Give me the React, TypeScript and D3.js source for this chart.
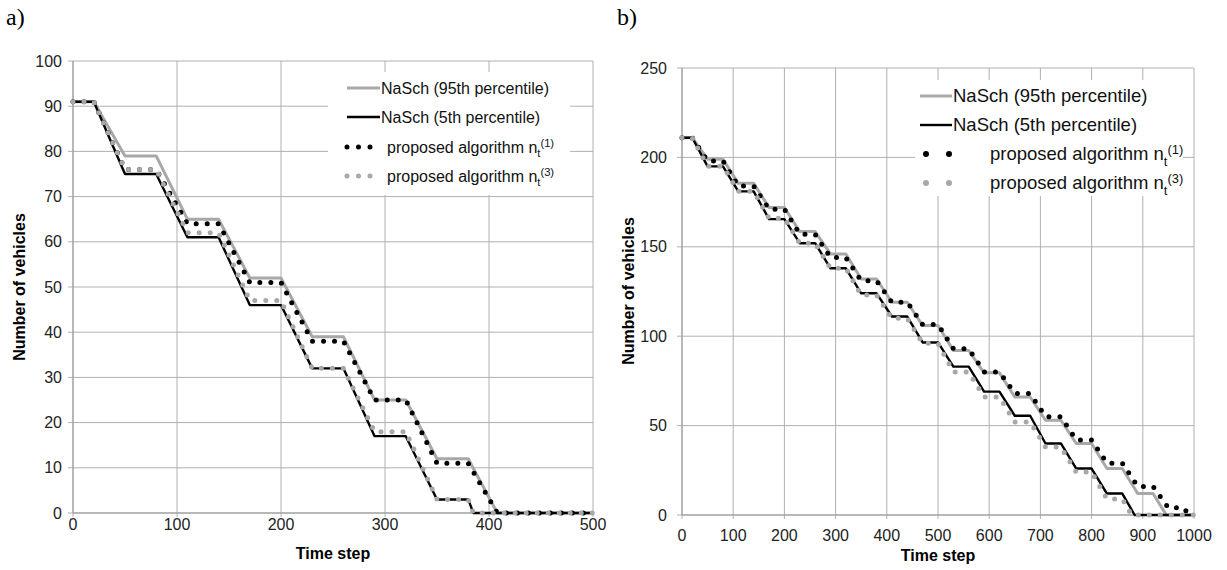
import React from "react";
import * as d3 from "d3";

// ---------- Panel a data ----------
const aT95 = [0, 20, 50, 80, 110, 140, 170, 200, 230, 260, 290, 320, 350, 380, 408, 500];
const aNaSch95 = [91, 91, 79, 79, 65, 65, 52, 52, 39, 39, 25, 25, 12, 12, 0, 0];
const aT5 = [0, 20, 50, 80, 110, 140, 170, 200, 230, 260, 290, 320, 350, 380, 385, 500];
const aNaSch5 = [91, 91, 75, 75, 61, 61, 46, 46, 32, 32, 17, 17, 3, 3, 0, 0];
const aTn1 = [0, 20, 50, 80, 110, 140, 170, 200, 230, 260, 290, 320, 350, 380, 408, 500];
const aN1 = [91, 91, 76, 76, 64, 64, 51, 51, 38, 38, 25, 25, 11, 11, 0, 0];
const aTn3 = [0, 20, 50, 80, 110, 140, 170, 200, 230, 260, 290, 320, 350, 380, 385, 500];
const aN3 = [91, 91, 76, 76, 62, 62, 47, 47, 32, 32, 18, 18, 3, 3, 0, 0];
const aXTicks = [0, 100, 200, 300, 400, 500];
const aYTicks = [0, 10, 20, 30, 40, 50, 60, 70, 80, 90, 100];

// ---------- Panel b data ----------
const bT95 = [0, 20, 50, 80, 110, 140, 170, 200, 230, 260, 290, 320, 350, 380, 410, 440, 470, 500, 530, 560, 590, 620, 650, 680, 710, 740, 770, 800, 830, 860, 890, 920, 946, 1000];
const bNaSch95 = [211, 211, 199, 199, 185.5, 185.5, 172, 172, 158.5, 158.5, 146, 146, 132, 132, 119, 119, 106, 106, 92, 92, 79.5, 79.5, 66, 66, 53, 53, 40, 40, 26, 26, 12, 12, 0, 0];
const bT5 = [0, 20, 50, 80, 110, 140, 170, 200, 230, 260, 290, 320, 350, 380, 410, 440, 470, 500, 530, 560, 590, 620, 650, 680, 710, 740, 770, 800, 830, 860, 884, 1000];
const bNaSch5 = [211, 211, 195, 195, 181, 181, 165.5, 165.5, 152, 152, 138, 138, 124, 124, 111, 111, 96.5, 96.5, 83, 83, 69, 69, 55.5, 55.5, 40, 40, 26, 26, 12, 12, 0, 0];
const bTn1 = [0, 20, 50, 80, 110, 140, 170, 200, 230, 260, 290, 320, 350, 380, 410, 440, 470, 500, 530, 560, 590, 620, 650, 680, 710, 740, 770, 800, 830, 860, 890, 920, 950, 980, 990, 1000];
const bN1 = [211, 211, 198, 198, 184, 184, 171, 171, 157, 157, 144, 144, 131, 131, 119, 119, 106.5, 106.5, 93, 93, 80, 80, 68, 68, 55, 55, 42, 42, 29, 29, 16, 16, 4, 4, 0, 0];
const bTn3 = [0, 20, 50, 80, 110, 140, 170, 200, 230, 260, 290, 320, 350, 380, 410, 440, 470, 500, 530, 560, 590, 620, 650, 680, 710, 740, 770, 800, 830, 860, 878, 1000];
const bN3 = [211, 211, 195, 195, 181, 181, 166, 166, 152, 152, 138, 138, 123, 123, 110, 110, 96, 96, 80, 80, 66, 66, 52, 52, 38, 38, 24, 24, 9, 9, 0, 0];
const bXTicks = [0, 100, 200, 300, 400, 500, 600, 700, 800, 900, 1000];
const bYTicks = [0, 50, 100, 150, 200, 250];

const legendLabels = [
  "NaSch (95th percentile)",
  "NaSch (5th percentile)",
  "proposed algorithm n",
  "proposed algorithm n",
];
const legendSups = ["", "", "(1)", "(3)"];

const FONT = "'Liberation Sans', Arial, sans-serif";
const GRID = "#b0b0b0";
const GRAY = "#a8a8a8";

type Series = { t: number[]; v: number[]; kind: "grayLine" | "blackLine" | "blackDots" | "grayDots" };

function seriesStyle(kind: Series["kind"]) {
  switch (kind) {
    case "grayLine":
      return { stroke: GRAY, strokeWidth: 3, dash: undefined as string | undefined, cap: "butt" };
    case "blackLine":
      return { stroke: "#000", strokeWidth: 2.4, dash: undefined as string | undefined, cap: "butt" };
    case "blackDots":
      return { stroke: "#000", strokeWidth: 5, dash: "0 11", cap: "round" };
    case "grayDots":
      return { stroke: GRAY, strokeWidth: 5, dash: "0 11", cap: "round" };
  }
}

function Panel(props: {
  xDomain: [number, number];
  yDomain: [number, number];
  xRange: [number, number];
  yRange: [number, number];
  xTicks: number[];
  yTicks: number[];
  series: Series[];
  yLabelX: number;
  yLabelY: number;
  xTitleY: number;
  xTickY: number;
  yTickGap: number;
  legend: { x0: number; y0: number; w: number; h: number; lineX: number; lineLen: number; dotX: number; dotLen: number; dotDash: string; dotW: number; textX: number; dotTextX: number; rows: number[]; fs: number };
}) {
  const x = d3.scaleLinear().domain(props.xDomain).range(props.xRange);
  const y = d3.scaleLinear().domain(props.yDomain).range(props.yRange);
  const [x0, x1] = props.xRange;
  const [yb, yt] = props.yRange;
  const L = props.legend;
  return (
    <g>
      {props.yTicks.map((t) => (
        <line key={"hy" + t} x1={x0} x2={x1} y1={y(t)} y2={y(t)} stroke={GRID} strokeWidth={1} />
      ))}
      {props.xTicks.map((t) => (
        <line key={"vx" + t} x1={x(t)} x2={x(t)} y1={yt} y2={yb + 4} stroke={GRID} strokeWidth={1} />
      ))}
      {props.yTicks.map((t) => (
        <line key={"ty" + t} x1={x0 - 5} x2={x0} y1={y(t)} y2={y(t)} stroke={GRID} strokeWidth={1} />
      ))}
      <line x1={x0} x2={x0} y1={yt} y2={yb} stroke="#999" strokeWidth={1} />
      <line x1={x0} x2={x1} y1={yb} y2={yb} stroke="#999" strokeWidth={1} />
      <rect x={L.x0} y={L.y0} width={L.w} height={L.h} fill="#fff" />
      {props.series.map((s, i) => {
        const st = seriesStyle(s.kind);
        const pts: [number, number][] = s.t.map((t, j) => [x(t), y(s.v[j])]);
        const path = d3.line()(pts) || "";
        return (
          <path
            key={i}
            d={path}
            fill="none"
            stroke={st.stroke}
            strokeWidth={st.strokeWidth}
            strokeDasharray={st.dash}
            strokeLinecap={st.cap as any}
            strokeLinejoin="round"
          />
        );
      })}
      {props.yTicks.map((t) => (
        <text key={"ly" + t} x={x0 - props.yTickGap} y={y(t)} dy="0.35em" textAnchor="end" fontFamily={FONT} fontSize={16} fill="#222">
          {t}
        </text>
      ))}
      {props.xTicks.map((t) => (
        <text key={"lx" + t} x={x(t)} y={props.xTickY} textAnchor="middle" fontFamily={FONT} fontSize={16} fill="#222">
          {t}
        </text>
      ))}
      <text x={(x0 + x1) / 2} y={props.xTitleY} textAnchor="middle" fontFamily={FONT} fontSize={16} fontWeight="bold" fill="#000">
        Time step
      </text>
      <text
        transform={`translate(${props.yLabelX},${props.yLabelY}) rotate(-90)`}
        textAnchor="middle"
        fontFamily={FONT}
        fontSize={16}
        fontWeight="bold"
        fill="#000"
      >
        Number of vehicles
      </text>
      {props.series.map((s, i) => {
        const st = seriesStyle(s.kind);
        const ry = L.rows[i];
        const dotted = s.kind === "blackDots" || s.kind === "grayDots";
        return (
          <g key={"lg" + i}>
            <line
              x1={dotted ? L.dotX : L.lineX}
              x2={dotted ? L.dotX + L.dotLen : L.lineX + L.lineLen}
              y1={ry}
              y2={ry}
              stroke={st.stroke}
              strokeWidth={dotted ? L.dotW : st.strokeWidth}
              strokeDasharray={dotted ? L.dotDash : undefined}
              strokeLinecap={st.cap as any}
            />
            <text x={dotted ? L.dotTextX : L.textX} y={ry} dy="0.35em" fontFamily={FONT} fontSize={L.fs} fill="#111">
              {legendLabels[i]}
              {legendSups[i] !== "" && (
                <>
                  <tspan fontSize={L.fs * 0.7} dy={L.fs * 0.28}>t</tspan>
                  <tspan fontSize={L.fs * 0.7} dy={-L.fs * 0.65}>{legendSups[i]}</tspan>
                </>
              )}
            </text>
          </g>
        );
      })}
    </g>
  );
}

export default function App() {
  const seriesA: Series[] = [
    { t: aT95, v: aNaSch95, kind: "grayLine" },
    { t: aT5, v: aNaSch5, kind: "blackLine" },
    { t: aTn1, v: aN1, kind: "blackDots" },
    { t: aTn3, v: aN3, kind: "grayDots" },
  ];
  const seriesB: Series[] = [
    { t: bT95, v: bNaSch95, kind: "grayLine" },
    { t: bT5, v: bNaSch5, kind: "blackLine" },
    { t: bTn1, v: bN1, kind: "blackDots" },
    { t: bTn3, v: bN3, kind: "grayDots" },
  ];
  return (
    <svg width={1227} height={570} style={{ position: "absolute", left: 0, top: 0, background: "#fff" }}>
      <rect x={0} y={0} width={1227} height={570} fill="#fff" />
      <text x={6} y={25} fontFamily="'Liberation Serif', 'Times New Roman', serif" fontSize={24} fill="#000">a)</text>
      <text x={617} y={25} fontFamily="'Liberation Serif', 'Times New Roman', serif" fontSize={24} fill="#000">b)</text>
      <Panel
        xDomain={[0, 500]}
        yDomain={[0, 100]}
        xRange={[73, 593]}
        yRange={[513, 61]}
        xTicks={aXTicks}
        yTicks={aYTicks}
        series={seriesA}
        yLabelX={25}
        yLabelY={287}
        xTitleY={559}
        xTickY={530}
        yTickGap={11}
        legend={{ x0: 328, y0: 72, w: 242, h: 123, lineX: 347, lineLen: 33, dotX: 347, dotLen: 24, dotDash: "0 11.5", dotW: 5, textX: 381, dotTextX: 387, rows: [88, 117, 147, 176], fs: 16 }}
      />
      <Panel
        xDomain={[0, 1000]}
        yDomain={[0, 250]}
        xRange={[682, 1194]}
        yRange={[515, 68]}
        xTicks={bXTicks}
        yTicks={bYTicks}
        series={seriesB}
        yLabelX={634}
        yLabelY={291}
        xTitleY={561}
        xTickY={541}
        yTickGap={15}
        legend={{ x0: 915, y0: 80, w: 268, h: 116, lineX: 920, lineLen: 32, dotX: 926, dotLen: 46, dotDash: "0 23", dotW: 6, textX: 953, dotTextX: 990, rows: [96, 125, 154, 183], fs: 18.5 }}
      />
    </svg>
  );
}
